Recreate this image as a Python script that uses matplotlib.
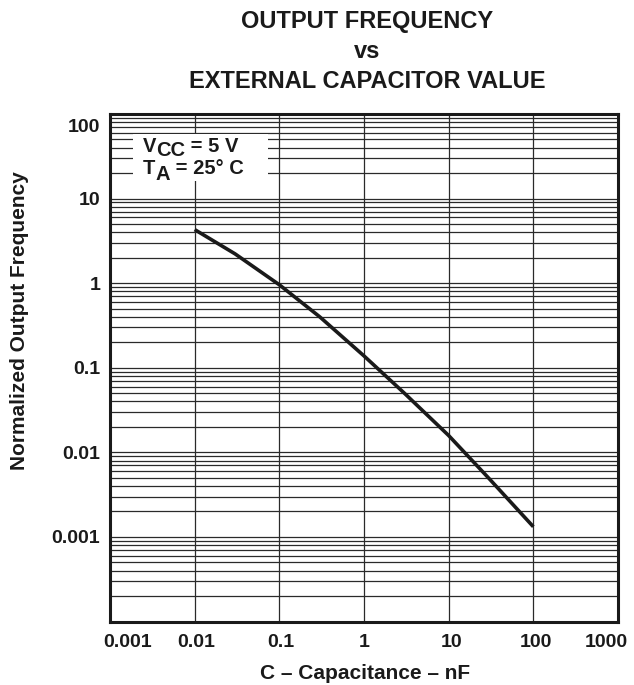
import matplotlib
matplotlib.use("Agg")
import matplotlib.pyplot as plt
from matplotlib.patches import Rectangle
from matplotlib.ticker import FixedLocator, LogLocator, NullFormatter
from matplotlib.transforms import IdentityTransform

plt.rcParams["font.family"] = ["Liberation Sans", "DejaVu Sans"]
plt.rcParams["font.weight"] = "bold"

# curve (capacitance in nF, normalized frequency)
capacitance_nf = [0.01, 0.03, 0.1, 0.3, 1, 3, 10, 30, 100]
norm_frequency = [4.3, 2.22, 0.957, 0.4, 0.138, 0.050, 0.0158, 0.0049, 0.00132]

x_ticks = [0.001, 0.01, 0.1, 1, 10, 100, 1000]
x_tick_labels = ["0.001", "0.01", "0.1", "1", "10", "100", "1000"]
y_ticks = [0.001, 0.01, 0.1, 1, 10, 100]
y_tick_labels = ["0.001", "0.01", "0.1", "1", "10", "100"]

# the end labels sit nudged inwards in the original (pixels)
x_label_nudge = [18, 2, 1, 0, 3, 3, -12]
y_label_nudge = [0, 0, 0, 0, 0, -11]

INK = "#1a1a1a"
W, H = 634, 685
fig = plt.figure(figsize=(W / 100, H / 100), dpi=100)
ax = fig.add_axes([110 / W, 1 - 621.5 / H, 508 / W, 507.5 / H])

ax.set_xscale("log")
ax.set_yscale("log")
ax.set_xlim(0.001, 1000)
ax.set_ylim(0.0001, 100)

ax.xaxis.set_major_locator(FixedLocator(x_ticks))
ax.xaxis.set_minor_locator(FixedLocator([]))
ax.yaxis.set_major_locator(FixedLocator(y_ticks))
ax.yaxis.set_minor_locator(LogLocator(base=10, subs=range(2, 10), numticks=20))
ax.yaxis.set_minor_formatter(NullFormatter())
ax.tick_params(which="both", length=0, labelbottom=False, labelleft=False)

ax.set_axisbelow(True)
ax.grid(True, which="major", axis="both", color="#2a2a2a", lw=0.9)
ax.grid(True, which="minor", axis="y", color="#2a2a2a", lw=0.9)

for sp in ax.spines.values():
    sp.set_linewidth(2.2)
    sp.set_color(INK)

# tick labels drawn as annotations so the end ones can be nudged
for xv, lab, dx in zip(x_ticks, x_tick_labels, x_label_nudge):
    ax.annotate(lab, xy=(xv, 0), xycoords=("data", "axes fraction"),
                xytext=(dx * 0.72, -9), textcoords="offset points",
                ha="center", va="top", fontsize=14, fontweight="bold",
                color=INK, annotation_clip=False)
for yv, lab, dy in zip(y_ticks, y_tick_labels, y_label_nudge):
    ax.annotate(lab, xy=(0, yv), xycoords=("axes fraction", "data"),
                xytext=(-7, dy * 0.72), textcoords="offset points",
                ha="right", va="center_baseline", fontsize=14,
                fontweight="bold", color=INK, annotation_clip=False)

ax.plot(capacitance_nf, norm_frequency, color=INK, lw=2.6,
        solid_capstyle="butt", solid_joinstyle="round", zorder=3)

# white patch behind the conditions text
ax.add_patch(Rectangle((23 / 508, (621.5 - 181) / 507.5), 135 / 508, 47 / 507.5,
                       transform=ax.transAxes, facecolor="white",
                       edgecolor="none", zorder=1))

# title
for line, base in [("OUTPUT FREQUENCY", 28), ("vs", 58), ("EXTERNAL CAPACITOR VALUE", 88)]:
    fig.text(367.5 / W, 1 - base / H, line, ha="center", va="baseline",
             fontsize=17, fontweight="bold", color=INK)

fig.text(365 / W, 6 / H, "C \u2013 Capacitance \u2013 nF", ha="center",
         va="baseline", fontsize=15, fontweight="bold", color=INK)
fig.text(20 / W, 364 / H, "Normalized Output Frequency", ha="center",
         va="center", rotation=90, fontsize=15, fontweight="bold", color=INK)

# conditions text with full-size lowered subscripts
fig.canvas.draw()
renderer = fig.canvas.get_renderer()


def draw_pieces(x, y, pieces):
    for s, dy in pieces:
        t = fig.text(x, y + dy, s, transform=IdentityTransform(),
                     ha="left", va="baseline", fontsize=14.5,
                     fontweight="bold", color=INK, zorder=5)
        x = t.get_window_extent(renderer).x1


draw_pieces(142.7, H - 152, [("V", 0), ("CC", -4.5), (" = 5 V", 0)])
draw_pieces(142.7, H - 174, [("T", 0), ("A", -6), (" = 25\u00b0 C", 0)])

fig.savefig("out.png", dpi=100)
